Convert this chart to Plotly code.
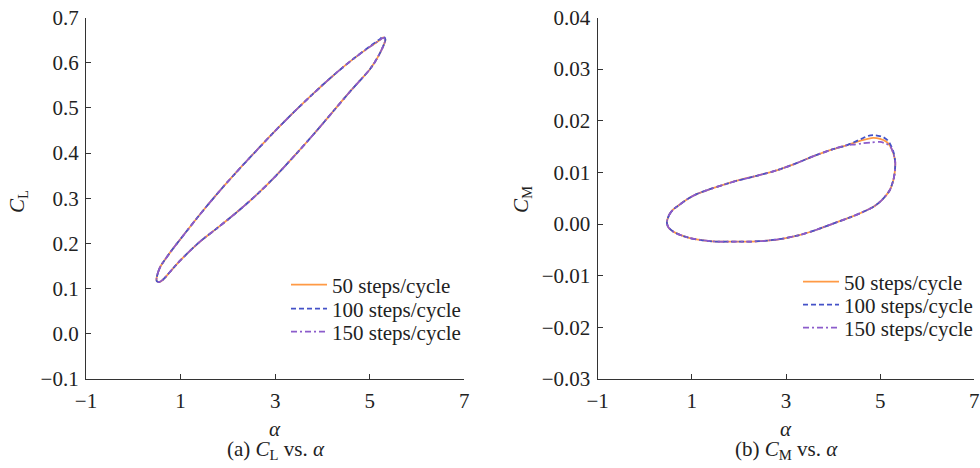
import plotly.graph_objects as go

# ---------------- data ----------------
# (a) C_L vs alpha : closed hysteresis loops (upper branch, then lower branch back)
cl50_alpha = [0.49, 0.53, 0.58, 0.65, 0.80, 1.00, 1.40, 1.80, 2.20, 2.60, 3.00, 3.40, 3.80, 4.20, 4.60, 5.00, 5.20, 5.29,
              5.33, 5.31, 5.27, 5.20, 5.10, 5.00, 4.60, 4.20, 3.80, 3.40, 3.00, 2.60, 2.20, 1.80, 1.40, 1.00, 0.80, 0.65, 0.56, 0.50, 0.49]
cl50 = [0.120, 0.138, 0.150, 0.161, 0.183, 0.210, 0.263, 0.313, 0.360, 0.405, 0.449, 0.491, 0.531, 0.569, 0.604, 0.635, 0.649, 0.656,
        0.651, 0.643, 0.633, 0.618, 0.600, 0.585, 0.538, 0.489, 0.440, 0.393, 0.348, 0.307, 0.270, 0.236, 0.203, 0.163, 0.140, 0.122, 0.115, 0.116, 0.120]
cl100_alpha = [0.49, 0.53, 0.58, 0.65, 0.80, 1.00, 1.40, 1.80, 2.20, 2.60, 3.00, 3.40, 3.80, 4.20, 4.60, 5.00, 5.20, 5.29,
               5.33, 5.31, 5.27, 5.20, 5.10, 5.00, 4.60, 4.20, 3.80, 3.40, 3.00, 2.60, 2.20, 1.80, 1.40, 1.00, 0.80, 0.65, 0.56, 0.50, 0.49]
cl100 = [0.120, 0.138, 0.150, 0.161, 0.183, 0.210, 0.263, 0.313, 0.360, 0.405, 0.449, 0.491, 0.531, 0.569, 0.604, 0.636, 0.651, 0.658,
         0.652, 0.643, 0.633, 0.618, 0.600, 0.585, 0.538, 0.489, 0.440, 0.393, 0.348, 0.307, 0.270, 0.236, 0.203, 0.163, 0.140, 0.122, 0.115, 0.116, 0.120]
cl150_alpha = [0.49, 0.53, 0.58, 0.65, 0.80, 1.00, 1.40, 1.80, 2.20, 2.60, 3.00, 3.40, 3.80, 4.20, 4.60, 5.00, 5.20, 5.29,
               5.33, 5.31, 5.27, 5.20, 5.10, 5.00, 4.60, 4.20, 3.80, 3.40, 3.00, 2.60, 2.20, 1.80, 1.40, 1.00, 0.80, 0.65, 0.56, 0.50, 0.49]
cl150 = [0.120, 0.138, 0.150, 0.161, 0.183, 0.210, 0.263, 0.313, 0.360, 0.405, 0.449, 0.491, 0.531, 0.569, 0.604, 0.635, 0.649, 0.655,
         0.650, 0.643, 0.633, 0.618, 0.600, 0.585, 0.538, 0.489, 0.440, 0.393, 0.348, 0.307, 0.270, 0.236, 0.203, 0.163, 0.140, 0.122, 0.115, 0.116, 0.120]

# (b) C_M vs alpha
cm_lower_alpha = [5.31, 5.28, 5.20, 5.03, 4.85, 4.60, 4.36, 4.00, 3.65, 3.30, 2.94, 2.60, 2.24, 1.90, 1.53, 1.20, 0.96, 0.75, 0.61, 0.50, 0.47]
cm_lower = [0.0100, 0.0085, 0.0065, 0.0046, 0.0033, 0.0022, 0.0013, 0.0001, -0.0011, -0.0021, -0.0028, -0.0032, -0.0034,
            -0.0034, -0.0034, -0.0031, -0.0027, -0.0021, -0.0015, -0.0006, 0.0004]
cm_upper_alpha = [0.47, 0.52, 0.60, 0.70, 0.90, 1.10, 1.40, 1.70, 2.00, 2.40, 2.80, 3.20, 3.60, 4.00, 4.30]
cm_upper = [0.0004, 0.0018, 0.0028, 0.0035, 0.0048, 0.0058, 0.0068, 0.0077, 0.0085, 0.0094, 0.0104, 0.0117, 0.0132, 0.0145, 0.0153]

cm50_peak_alpha = [4.60, 4.85, 5.00, 5.14, 5.22, 5.28, 5.32]
cm50_peak = [0.0162, 0.0167, 0.0165, 0.0159, 0.0150, 0.0137, 0.0120]
cm100_peak_alpha = [4.60, 4.75, 4.90, 5.07, 5.17, 5.24, 5.29, 5.32]
cm100_peak = [0.0165, 0.0171, 0.0172, 0.0168, 0.0161, 0.0150, 0.0137, 0.0120]
cm150_peak_alpha = [4.45, 4.60, 4.80, 5.00, 5.12, 5.21, 5.28, 5.32]
cm150_peak = [0.0154, 0.0156, 0.0158, 0.0159, 0.0156, 0.0151, 0.0137, 0.0120]

series_names = ["50 steps/cycle", "100 steps/cycle", "150 steps/cycle"]

x_ticks = [-1, 1, 3, 5, 7]
x_ticktext = ["\u22121", "1", "3", "5", "7"]
cl_ticks = [-0.1, 0.0, 0.1, 0.2, 0.3, 0.4, 0.5, 0.6, 0.7]
cl_ticktext = ["\u22120.1", "0.0", "0.1", "0.2", "0.3", "0.4", "0.5", "0.6", "0.7"]
cm_ticks = [-0.03, -0.02, -0.01, 0.0, 0.01, 0.02, 0.03, 0.04]
cm_ticktext = ["\u22120.03", "\u22120.02", "\u22120.01", "0.00", "0.01", "0.02", "0.03", "0.04"]

# ---------------- styling ----------------
FONT = "Liberation Serif"
FS = 21
TXT = "#222222"
colors = ["#FF9A45", "#4452C8", "#8C5CCB"]
dashes = ["solid", "5px,3px", "6px,3px,2px,3px"]
LW = 1.8

W, H = 980, 468
def px(v): return v / W
def py(v): return 1 - v / H

fig = go.Figure()

cl_x = [cl50_alpha, cl100_alpha, cl150_alpha]
cl_y = [cl50, cl100, cl150]
for i in range(3):
    fig.add_trace(go.Scatter(x=cl_x[i], y=cl_y[i], mode="lines", name=series_names[i],
                             line=dict(color=colors[i], width=LW, dash=dashes[i], shape="spline", smoothing=1.0),
                             xaxis="x", yaxis="y", legend="legend" if i == 0 else f"legend{i + 1}"))

peaks_a = [cm50_peak_alpha, cm100_peak_alpha, cm150_peak_alpha]
peaks_v = [cm50_peak, cm100_peak, cm150_peak]
for i in range(3):
    xs = cm_upper_alpha + peaks_a[i] + cm_lower_alpha
    ys = cm_upper + peaks_v[i] + cm_lower
    fig.add_trace(go.Scatter(x=xs, y=ys, mode="lines", name=series_names[i],
                             line=dict(color=colors[i], width=LW, dash=dashes[i], shape="spline", smoothing=0.8),
                             xaxis="x2", yaxis="y2", legend=f"legend{i + 4}"))

axis_common = dict(showline=True, linecolor="#333333", linewidth=1.3, mirror=False,
                   ticks="inside", ticklen=5, tickwidth=1.2, tickcolor="#333333",
                   showgrid=False, zeroline=False, automargin=False,
                   tickfont=dict(family=FONT, size=FS, color=TXT))

layout = dict(
    width=W, height=H, margin=dict(l=0, r=0, t=0, b=0, autoexpand=False),
    paper_bgcolor="white", plot_bgcolor="white",
    font=dict(family=FONT, size=FS, color=TXT),
    xaxis=dict(domain=[px(86), px(464.3)], range=[-1, 7], tickvals=x_ticks, ticktext=x_ticktext,
               anchor="y", ticklabelstandoff=3, **axis_common),
    yaxis=dict(domain=[1 - 379 / H, 1 - 17.5 / H], range=[-0.1, 0.7], tickvals=cl_ticks, ticktext=cl_ticktext,
               anchor="x", ticklabelstandoff=2, **axis_common),
    xaxis2=dict(domain=[px(597.7), px(974.3)], range=[-1, 7], tickvals=x_ticks, ticktext=x_ticktext,
                anchor="y2", ticklabelstandoff=3, **axis_common),
    yaxis2=dict(domain=[1 - 379 / H, 1 - 17.5 / H], range=[-0.03, 0.04], tickvals=cm_ticks, ticktext=cm_ticktext,
                anchor="x2", ticklabelstandoff=2, **axis_common),
    showlegend=True,
)

legend_rows = [(286, 285), (286, 309), (286, 332), (798, 282), (798, 305), (798, 328)]
for k, (lx, ly) in enumerate(legend_rows):
    key = "legend" if k == 0 else f"legend{k + 1}"
    layout[key] = dict(x=px(lx), y=py(ly), xanchor="left", yanchor="middle", bgcolor="rgba(0,0,0,0)",
                       font=dict(family=FONT, size=FS, color=TXT), itemwidth=36)

fig.update_layout(**layout)

ann = [
    dict(text="<i>C</i><sub>L</sub>", x=px(18), y=py(202), textangle=-90),
    dict(text="<i>α</i>", x=px(275), y=py(429)),
    dict(text="(a) <i>C</i><sub>L</sub> vs. <i>α</i>", x=px(276), y=py(450)),
    dict(text="<i>C</i><sub>M</sub>", x=px(522), y=py(200), textangle=-90),
    dict(text="<i>α</i>", x=px(786), y=py(429)),
    dict(text="(b) <i>C</i><sub>M</sub> vs. <i>α</i>", x=px(786), y=py(450)),
]
for a in ann:
    fig.add_annotation(xref="paper", yref="paper", showarrow=False, xanchor="center", yanchor="middle",
                       font=dict(family=FONT, size=FS, color=TXT), **a)

fig.write_html("out.html")
